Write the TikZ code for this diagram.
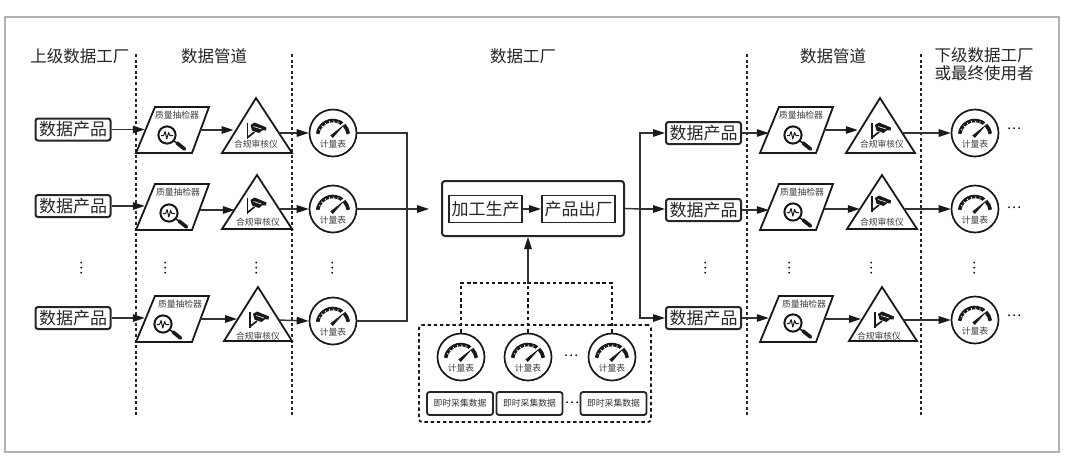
\documentclass[tikz,border=0pt]{standalone}
\usepackage{fontspec}
\setmainfont{Noto Sans CJK SC}
\usetikzlibrary{arrows.meta,calc}
\newcommand{\fs}[1]{\fontsize{#1}{#1}\selectfont}
\tikzset{
  x=1pt,y=-1pt,
  frameline/.style={draw=black!30,line width=1.5pt},
  sep/.style={draw=black!85,line width=1.4pt,dash pattern=on 3pt off 2.6pt},
  dashy/.style={draw=black!90,line width=1.8pt,dash pattern=on 3.4pt off 2.8pt},
  title/.style={inner sep=0pt,font=\fs{16.5},text=black!85},
  prod/.style={draw=black!85,line width=2pt,rounded corners=2.5pt,minimum width=75pt,minimum height=22pt,inner sep=0pt,font=\fs{17},text=black!85},
  sqbox/.style={draw=black!85,line width=1.9pt,minimum width=73pt,minimum height=27pt,inner sep=0pt,font=\fs{17},text=black!85},
  bigbox/.style={draw=black!85,line width=2pt,rounded corners=3pt,minimum width=182pt,minimum height=55pt,inner sep=0pt},
  capt/.style={draw=black!85,line width=1.8pt,rounded corners=2.5pt,minimum width=66pt,minimum height=23pt,inner sep=0pt,font=\fs{8.8},text=black!80},
  groupbox/.style={dashy,rounded corners=3pt,minimum width=232pt,minimum height=97pt,inner sep=0pt},
  small/.style={inner sep=0pt,font=\fs{8.8},text=black!75},
  ring/.style={circle,draw=black!90,line width=1.7pt,minimum size=47pt,inner sep=0pt},
  ghost/.style={inner sep=0pt,draw=none},
  shapeline/.style={draw=black!90,line width=1.8pt,line join=miter},
  arr/.style={draw=black!80,line width=1.4pt,-{Triangle[length=12pt,width=7.5pt,black!90]}},
  wire/.style={draw=black!80,line width=1.4pt},
  dots/.style={inner sep=0pt,font=\fs{13.5},text=black},
}
% name x y
\newcommand{\gaugeicon}[3]{%
  \node[ring] (#1) at (#2,#3) {};
  \begin{scope}[shift={(#2,#3)}]
    \draw[black!90,line width=3.6pt] (0,3)++(188:15.5) arc[start angle=188,end angle=352,radius=15.5];
    \foreach \a in {205,222,239,256,273,290}{\draw[white,line width=.7pt] (0,3)++(\a:13.7)--++(\a:1.8);}
    \draw[white,line width=2.4pt] (5,-4)--(16,-14);
    \fill[black!90] (-2.6,2.4)--(-0.2,5)--(12.5,-9.5)--cycle;
  \end{scope}
  \node[small] (#1-t) at (#2,#3+11) {计量表};
}
% name blx top textx magx magy
\newcommand{\paraicon}[6]{%
  \node[ghost,minimum width=55pt,minimum height=46pt] (#1) at (#2+36.5,#3+23) {};
  \draw[shapeline] (#2,#3+46)--(#2+19,#3)--(#2+73,#3)--(#2+56,#3+46)--cycle;
  \node[small] (#1-t) at (#4,#3+8) {质量抽检器};
  \begin{scope}[shift={(#5,#6)}]
    \draw[black!90,line width=2pt] (0,0) circle[radius=8.6];
    \draw[black!90,line width=1pt,line join=round] (-6.2,0.5)--(-3.4,0.5)--(-1.9,-3.5)--(-.2,4)--(1.6,-2.5)--(3,0.5)--(6.2,0.5);
    \draw[black!90,line width=3.6pt,line cap=round] (10,8)--(17.5,14);
    \draw[black!90,line width=1.4pt] (6,5.5)--(10,8);
  \end{scope}
}
% name apexx apexy basey bl br outy
\newcommand{\triicon}[7]{%
  \pgfmathsetmacro{\hw}{(#7-#3)/(#4-#3)*(#6-#5)/2}
  \node[ghost,minimum width=2*\hw pt,minimum height=6pt] (#1) at (#2,#7) {};
  \draw[shapeline] (#2,#3)--(#6,#4)--(#5,#4)--cycle;
}
% name textx texty camx camy
\newcommand{\triinner}[5]{%
  \node[small] (#1-t) at (#2,#3) {合规审核仪};
  \begin{scope}[shift={(#4,#5)}]
    \draw[black!90,line width=1.7pt] (0,-8)--(0,7.5);
    \draw[black!90,line width=1.7pt] (0,6.5)--(7,1);
    \fill[black!90] (3,-6)--(7,-8.5)--(15.5,-5)--(19,-3.5)--(18.5,-.5)--(15,-.8)--(11.5,2)--(4.5,-.5)--cycle;
    \draw[white,line width=.6pt] (6,-4.5)--(14,-2);
  \end{scope}
}
\begin{document}
\begin{tikzpicture}
\useasboundingbox (0,0) rectangle (1080,464);
\fill[white] (0,0) rectangle (1080,464);
\draw[frameline] (5,17) rectangle (1059,452);

% separators
\foreach \n/\sx in {a/136,b/292,c/747,d/921}{
  \coordinate (s\n t) at (\sx,54);
  \coordinate (s\n b) at (\sx,415);
  \draw[sep] (s\n t)--(s\n b);
}

% titles
\node[title] (t1) at (80,56) {上级数据工厂};
\node[title] (t2) at (214,56) {数据管道};
\node[title] (t3) at (523,56) {数据工厂};
\node[title] (t4) at (833,56) {数据管道};
\node[title] (t5) at (984,55) {下级数据工厂};
\node[title] (t6) at (984,73) {或最终使用者};

% left products
\node[prod] (l1) at (73,129.5) {数据产品};
\node[prod] (l2) at (73,206) {数据产品};
\node[prod] (l3) at (73,318) {数据产品};

% left parallelograms
\paraicon{lp1}{136}{107}{177}{167}{135}
\paraicon{lp2}{136}{184}{178}{169}{213}
\paraicon{lp3}{136}{296}{180}{163}{324}

% left triangles
\triicon{lt1}{256}{98}{153}{222}{292}{133}
\triicon{lt2}{257}{175}{229}{222}{292}{209}
\triicon{lt3}{258}{287}{341}{224}{292}{320}
\triinner{lt1}{256}{144}{247.5}{131}
\triinner{lt2}{258}{222}{247.5}{206}
\triinner{lt3}{258}{336}{250}{320}

% left gauges
\gaugeicon{lg1}{333}{133}
\gaugeicon{lg2}{333}{209}
\gaugeicon{lg3}{333}{321}

% right products
\node[prod] (r1) at (703.5,133) {数据产品};
\node[prod] (r2) at (703.5,210) {数据产品};
\node[prod] (r3) at (703.5,318) {数据产品};

% right parallelograms
\paraicon{rp1}{760}{107}{801}{793}{135}
\paraicon{rp2}{760}{184}{802}{793}{212}
\paraicon{rp3}{760}{296}{804}{793}{323}

% right triangles
\triicon{rt1}{880}{98}{153}{846}{915}{133}
\triicon{rt2}{882}{175}{229}{847}{917}{209}
\triicon{rt3}{882}{287}{341}{849}{917}{320}
\triinner{rt1}{882}{144}{872}{131}
\triinner{rt2}{882}{222}{872}{204}
\triinner{rt3}{879}{336}{875}{320}

% right gauges
\gaugeicon{rg1}{975}{133}
\gaugeicon{rg2}{975}{209}
\gaugeicon{rg3}{975}{320}

% centre
\node[bigbox] (core) at (533,208.5) {};
\node[sqbox] (make) at (485.5,209) {加工生产};
\node[sqbox] (ship) at (578.5,209) {产品出厂};

% collectors
\node[groupbox] (grp) at (535,373.5) {};
\gaugeicon{cg1}{461}{357}
\gaugeicon{cg2}{528}{357}
\gaugeicon{cg3}{612}{357}
\node[capt] (c1) at (460,403.5) {即时采集数据};
\node[capt] (c2) at (529.5,403.5) {即时采集数据};
\node[capt] (c3) at (613.5,403.5) {即时采集数据};
\node[dots] (d1) at (571,356) {…};
\node[dots] (d2) at (572,403) {…};

% row dots
\node[dots] (d3) at (1014,129) {…};
\node[dots] (d4) at (1014,208) {…};
\node[dots] (d5) at (1014,316) {…};
\foreach \n/\dx in {e/82,f/166,g/257,h/333,i/706,j/790,k/872,l/975}{
  \node[dots,rotate=90] (v\n) at (\dx,268) {…};
}

% connectors left
\draw[arr] (l1.east)--(l1.east -| lp1.west);
\draw[arr] (l2.east)--(l2.east -| lp2.west);
\draw[arr] (l3.east)--(l3.east -| lp3.west);
\draw[arr] (lp1.east)--(lp1.east -| lt1.west);
\draw[arr] ([yshift=-3pt]lp2.east)--([yshift=-3pt]lp2.east -| lt2.west);
\draw[arr] (lp3.east)--(lp3.east -| lt3.west);
\draw[arr] (lt1.east)--(lg1.west);
\draw[arr] (lt2.east)--(lg2.west);
\draw[arr] (lt3.east)--(lg3.west);

% merge into centre
\coordinate (jl) at (407,209);
\draw[wire] (lg1.east)-|(jl);
\draw[wire] (lg3.east)-|(jl);
\draw[arr,shorten >=12pt] (lg2.east)--(lg2.east -| core.west);
\draw[arr] (make.east)--(ship.west);

% split out of centre
\coordinate (jr) at (640,209);
\draw[wire] (core.east)--(jr);
\draw[arr] (jr)|-(r1.west);
\draw[arr] (jr)--(jr -| r2.west);
\draw[arr] (jr)|-(r3.west);

% connectors right
\draw[arr] (r1.east)--(r1.east -| rp1.west);
\draw[arr] (r2.east)--(r2.east -| rp2.west);
\draw[arr] (r3.east)--(r3.east -| rp3.west);
\draw[arr] (rp1.east)--(rp1.east -| rt1.west);
\draw[arr] ([yshift=-2pt]rp2.east)--([yshift=-2pt]rp2.east -| rt2.west);
\draw[arr] (rp3.east)--(rp3.east -| rt3.west);
\draw[arr] (rt1.east)--(rg1.west);
\draw[arr] (rt2.east)--(rg2.west);
\draw[arr] (rt3.east)--(rg3.west);

% collector wiring
\coordinate (bus) at (528,283);
\draw[dashy] (cg1.north)|-(bus);
\draw[dashy] (cg3.north)|-(bus);
\draw[dashy] (cg2.north)--(bus);
\draw[arr] (bus)--(core.south -| bus);
\end{tikzpicture}
\end{document}
